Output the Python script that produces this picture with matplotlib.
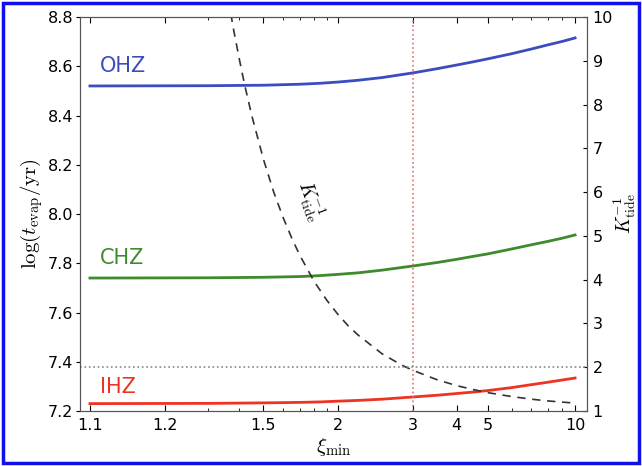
import numpy as np
import matplotlib
matplotlib.use("Agg")
import matplotlib.pyplot as plt
from matplotlib.patches import Rectangle
from matplotlib.ticker import FixedLocator, NullFormatter

plt.rcParams['mathtext.fontset'] = 'cm'

# xi_min values (x axis drawn as log(xi - 1))
xi = [1.1, 1.3, 1.5, 1.7, 1.85, 2.0, 2.2, 2.5, 3.0, 3.5, 4.0, 4.5, 5.0, 6.0, 7.0, 8.0, 9.0, 10.0]
ohz = [8.520, 8.521, 8.523, 8.527, 8.531, 8.536, 8.543, 8.554, 8.573, 8.590, 8.605, 8.618,
       8.630, 8.651, 8.670, 8.687, 8.701, 8.715]
chz = [7.740, 7.741, 7.743, 7.746, 7.750, 7.755, 7.761, 7.772, 7.789, 7.803, 7.816, 7.828,
       7.838, 7.858, 7.875, 7.889, 7.902, 7.915]
ihz = [7.230, 7.231, 7.233, 7.235, 7.237, 7.240, 7.243, 7.248, 7.257, 7.264, 7.271, 7.277,
       7.283, 7.295, 7.307, 7.317, 7.326, 7.334]

# K_tide^-1 curve (right axis)
xi_k = [1.36, 1.38, 1.40, 1.42, 1.45, 1.50, 1.55, 1.60, 1.65, 1.70, 1.80, 1.9, 2.0, 2.1, 2.2,
        2.5, 2.8, 3.0, 3.5, 4.0, 4.5, 5.0, 6.0, 7.0, 8.0, 10.0]
kinv = [10.43, 9.68, 9.03, 8.45, 7.72, 6.75, 6.00, 5.42, 4.95, 4.56, 3.96, 3.53, 3.20, 2.94, 2.74,
        2.31, 2.05, 1.93, 1.715, 1.58, 1.49, 1.42, 1.33, 1.27, 1.23, 1.18]

tick_xi = [1.1, 1.2, 1.5, 2, 3, 4, 5, 10]
tick_labels = ['1.1', '1.2', '1.5', '2', '3', '4', '5', '10']
minor_xi = [1.3, 1.4, 1.6, 1.7, 1.8, 1.9, 6, 7, 8, 9]

blue, green, red = '#3b4cc0', '#3d8b2c', '#ee3322'

fig = plt.figure(figsize=(6.42, 4.66), dpi=100)
ax = fig.add_axes([0.1246, 0.118, 0.7897, 0.8455])
ax2 = ax.twinx()

xm1 = lambda v: np.asarray(v) - 1.0

ax.plot(xm1(xi), ohz, color=blue, lw=2)
ax.plot(xm1(xi), chz, color=green, lw=2)
ax.plot(xm1(xi), ihz, color=red, lw=2)
ax.axvline(2.0, color='#e07070', ls=':', lw=1.2)

ax2.plot(xm1(xi_k), kinv, color='#333333', ls='--', lw=1.2, dashes=(5, 4))
ax2.axhline(2.0, color='#888888', ls=':', lw=1.2)

ax.set_xscale('log')
ax.set_xlim(0.0912, 10.05)
ax.set_ylim(7.2, 8.8)
ax2.set_ylim(1, 10)

ax.xaxis.set_major_locator(FixedLocator(xm1(tick_xi)))
ax.set_xticklabels(tick_labels)
ax.xaxis.set_minor_locator(FixedLocator(xm1(minor_xi)))
ax.xaxis.set_minor_formatter(NullFormatter())
ax.set_yticks(np.arange(7.2, 8.81, 0.2))
ax.set_yticklabels(['%.1f' % v for v in np.arange(7.2, 8.81, 0.2)])
ax2.set_yticks(range(1, 11))

ax.tick_params(axis='x', which='both', direction='in', top=True, labelsize=11.5, pad=5)
ax.tick_params(axis='x', which='major', length=4)
ax.tick_params(axis='x', which='minor', length=2.5)
ax.tick_params(axis='y', direction='out', length=3, labelsize=11.5, pad=2)
ax2.tick_params(axis='y', direction='in', length=3, labelsize=11.5, pad=4)

for a in (ax, ax2):
    for s in a.spines.values():
        s.set_color('#555555')

ax.text(0.1095, 8.56, 'OHZ', color=blue, fontsize=15, va='bottom')
ax.text(0.1095, 7.78, 'CHZ', color=green, fontsize=15, va='bottom')
ax.text(0.1095, 7.255, 'IHZ', color=red, fontsize=15, va='bottom')
ax2.text(0.77, 5.8, r'$K_{\rm tide}^{-1}$', fontsize=14, rotation=-70,
         ha='center', va='center')

ax.set_xlabel(r'$\xi_{\rm min}$', fontsize=15, labelpad=2)
ax.set_ylabel(r'$\log(t_{\rm evap}/{\rm yr})$', fontsize=15, labelpad=2)
ax2.set_ylabel(r'$K_{\rm tide}^{-1}$', fontsize=14, rotation=90, va='center', ha='center')
ax2.yaxis.set_label_coords(1.074, 0.5)

fig.patches.append(Rectangle((3 / 642, 3 / 466), 636 / 642, 460 / 466,
                             transform=fig.transFigure, fill=False,
                             edgecolor='#1010ee', lw=2.5))

fig.savefig('out.png', dpi=100)
